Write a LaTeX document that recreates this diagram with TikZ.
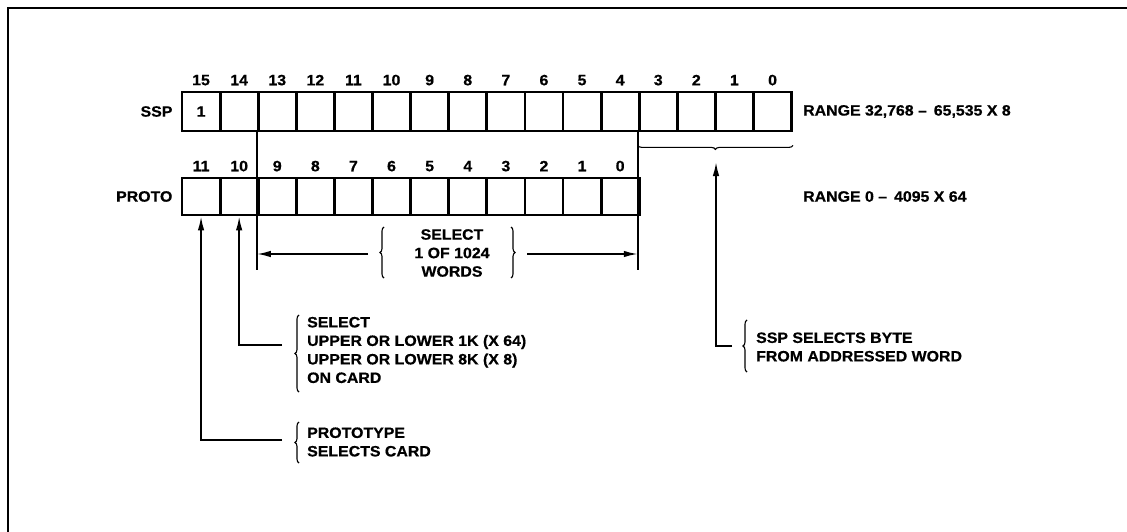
\documentclass[tikz,border=0pt]{standalone}
\usepackage{fontspec}
\setmainfont{Liberation Sans}[FakeStretch=1.06, FakeBold=0.6]
\usetikzlibrary{arrows.meta,decorations.pathreplacing,calc}
\newcommand\dtxt{\fontsize{15}{18.5}\selectfont\bfseries}
\begin{document}
\begin{tikzpicture}[x=1pt,y=-1pt,
  txt/.style={font=\dtxt, inner sep=0pt},
  cell/.style={draw, line width=2.8pt, minimum width=38.1pt, inner sep=0pt},
  conn/.style={line width=1.7pt},
  arr/.style={-{Latex[length=14pt,width=6.5pt]}},
  brc/.style={line width=1.1pt, decorate, decoration={brace, amplitude=4pt, aspect=0.5}},
  frame/.style={line width=2pt}]
\useasboundingbox (0,0) rectangle (1127,532);
\fill[white] (0,0) rectangle (1127,532);
% frame
\draw[frame] (1127,8) -- (8,8) -- (8,532);
% SSP row
\foreach \i in {0,...,15}{
  \node[cell, minimum height=39pt] (s\i) at ({182+19.05+38.1*(15-\i)},111.5) {};
  \node[txt] (sl\i) at ($(s\i.north)+(0,-10.5)$) {\i};
}
\node[txt] (one) at (s15.center) {1};
\node[txt, anchor=east] (sspl) at ([xshift=-8pt]s15.west) {SSP};
% PROTO row
\foreach \i in {0,...,11}{
  \node[cell, minimum height=37pt] (p\i) at ({182+19.05+38.1*(11-\i)},196.5) {};
  \node[txt] (pl\i) at ($(p\i.north)+(0,-10.5)$) {\i};
}
\node[txt, anchor=east] (protol) at ([xshift=-8pt]p11.west) {PROTO};
% ranges
\coordinate (rr) at ([xshift=10pt]s0.east);
\node[txt, anchor=west] (r1) at (rr) {RANGE 32,768 -- \,65,535 X 8};
\node[txt, anchor=west] (r2) at (rr |- p0) {RANGE 0 -- \,4095 X 64};
% select 1 of 1024 words
\coordinate (vl) at (s13.south west |- 0,270);
\coordinate (vr) at (s3.south west |- 0,270);
\draw[conn] (s13.south west) -- (vl);
\draw[conn] (s3.south west) -- (vr);
\node[txt, align=center] (sel) at (452,253) {SELECT\\1 OF 1024\\WORDS};
\coordinate (al) at (368,254);
\coordinate (ar) at (527,254);
\draw[conn, arr] (al) -- (al -| vl);
\draw[conn, arr] (ar) -- (ar -| vr);
\draw[brc] (384,278) -- (384,227);
\draw[brc] (511,227) -- (511,278);
% SSP byte select
\draw[brc] ([yshift=-13pt]s0.south east) -- ([yshift=-13pt]s3.south west);
\coordinate (bt) at (716,162);
\coordinate (k3) at (732,346);
\draw[conn, arr] (k3) -| (bt);
\node[txt, anchor=west, align=left] (b3) at (756,347) {SSP SELECTS BYTE\\FROM ADDRESSED WORD};
\draw[brc] (747,372) -- (747,320);
% bit 10
\coordinate (k10) at (282,345);
\draw[conn, arr] (k10) -| (p10.south);
\node[txt, anchor=west, align=left] (b10) at (307,350) {SELECT\\UPPER OR LOWER 1K (X 64)\\UPPER OR LOWER 8K (X 8)\\ON CARD};
\draw[brc] (299,392) -- (299,315);
% bit 11
\coordinate (k11) at (282,440);
\draw[conn, arr] (k11) -| (p11.south);
\node[txt, anchor=west, align=left] (b11) at (307,442) {PROTOTYPE\\SELECTS CARD};
\draw[brc] (299,463) -- (299,422);
\end{tikzpicture}
\end{document}
